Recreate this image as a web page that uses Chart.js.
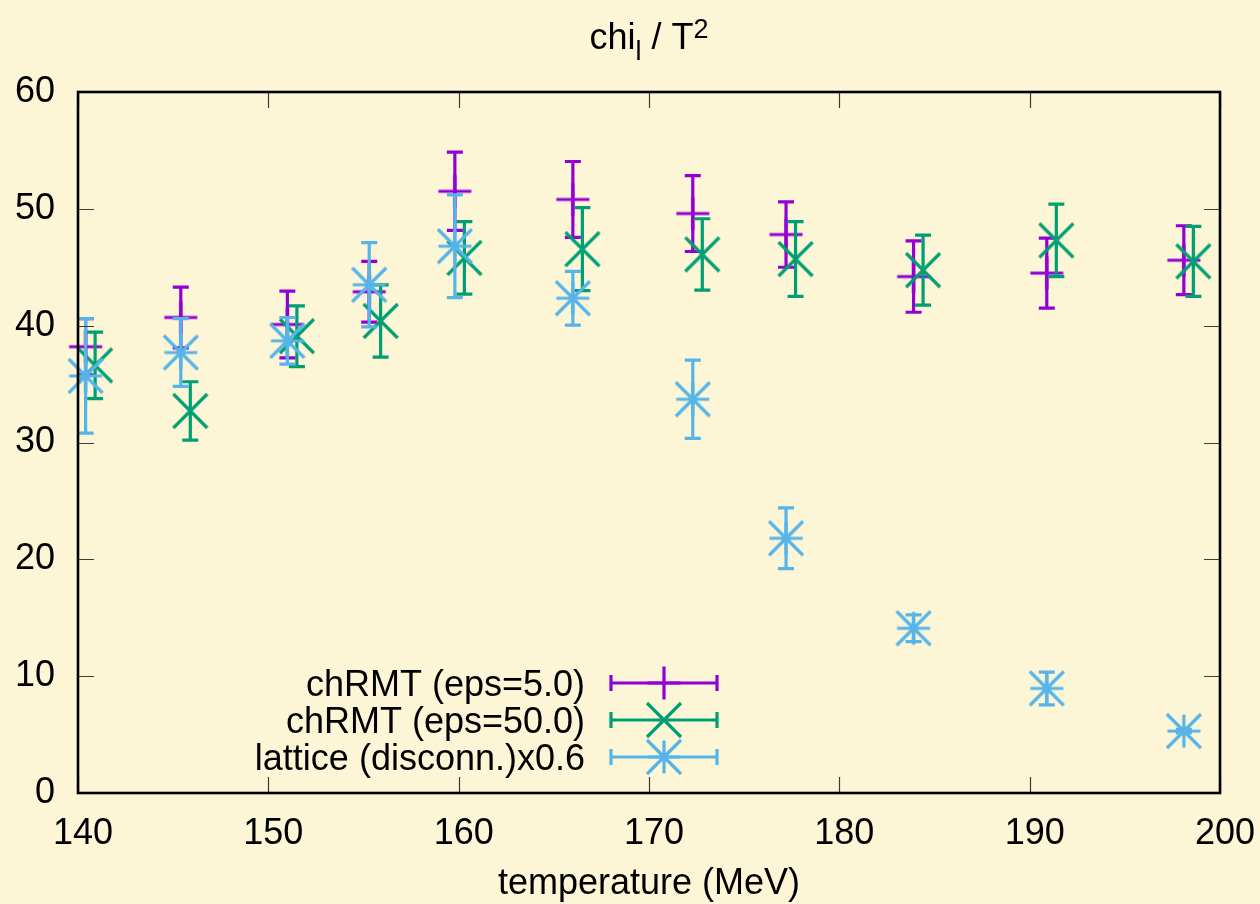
<!DOCTYPE html>
<html><head><meta charset="utf-8">
<script src="https://cdn.jsdelivr.net/npm/chart.js@4.4.1/dist/chart.umd.min.js"></script>
<style>html,body{margin:0;padding:0;background:#fdf6d6;}</style>
</head><body>
<canvas id="c" width="1260" height="904" style="display:block;width:1260px;height:904px"></canvas>
<script>
// ---- data ----
const seriesLabels = ['chRMT (eps=5.0)', 'chRMT (eps=50.0)', 'lattice (disconn.)x0.6'];
const temperatures = [140.4, 145.4, 151.0, 155.3, 159.8, 166.0, 172.3, 177.2, 183.9, 190.9, 198.1];
const temperaturesEps50 = [140.9, 145.9, 151.5, 155.9, 160.3, 166.5, 172.8, 177.7, 184.4, 191.4, 198.6];
const eps5Values = [38.2, 40.7, 40.1, 42.9, 51.5, 50.8, 49.6, 47.8, 44.2, 44.5, 45.6];
const eps5Errors = [2.4, 2.6, 2.85, 2.6, 3.35, 3.25, 3.25, 2.8, 3.05, 3.0, 2.95];
const eps50Values = [36.6, 32.7, 39.1, 40.4, 45.8, 46.55, 46.1, 45.7, 44.75, 47.3, 45.5];
const eps50Errors = [2.85, 2.5, 2.6, 3.1, 3.1, 3.55, 3.05, 3.2, 3.0, 3.1, 3.0];
const latticeValues = [35.7, 37.7, 38.7, 43.5, 46.8, 42.35, 33.7, 21.8, 14.1, 8.95, 5.3];
const latticeErrors = [4.9, 2.9, 2.0, 3.6, 4.4, 2.3, 3.35, 2.6, 1.15, 1.4, 0.15];
const xTicks = [140, 150, 160, 170, 180, 190, 200];
const yTicks = [0, 10, 20, 30, 40, 50, 60];

// ---- styling ----
const BG = '#fdf6d6';
const FONT = '"Liberation Sans", Arial, sans-serif';
const FS = 36;
const COLORS = ['#9400d3', '#009e73', '#56b4e9'];
Chart.defaults.font.family = FONT;
Chart.defaults.font.size = FS;
Chart.defaults.color = '#000';

function makeMarker(type, color) {
  const size = 42, c = size / 2, s = 17, p = 16.5;
  const cv = document.createElement('canvas');
  cv.width = size; cv.height = size;
  const g = cv.getContext('2d');
  g.strokeStyle = color; g.lineWidth = 3.2; g.lineCap = 'butt';
  g.beginPath();
  if (type === 'plus' || type === 'star') {
    g.moveTo(c - p, c); g.lineTo(c + p, c);
    g.moveTo(c, c - p); g.lineTo(c, c + p);
  }
  if (type === 'x' || type === 'star') {
    g.moveTo(c - s, c - s); g.lineTo(c + s, c + s);
    g.moveTo(c - s, c + s); g.lineTo(c + s, c - s);
  }
  g.stroke();
  return cv;
}
const markers = [makeMarker('plus', COLORS[0]), makeMarker('x', COLORS[1]), makeMarker('star', COLORS[2])];

function pts(xs, ys) { return xs.map((x, i) => ({x: x, y: ys[i]})); }
const errorSets = [eps5Errors, eps50Errors, latticeErrors];

const bgPlugin = {
  id: 'bg',
  beforeDraw(chart) {
    const ctx = chart.ctx;
    ctx.save(); ctx.fillStyle = BG; ctx.fillRect(0, 0, chart.width, chart.height); ctx.restore();
  }
};

const errorBarPlugin = {
  id: 'errbars',
  beforeDatasetDraw(chart, args) {
    const i = args.index;
    const ds = chart.data.datasets[i];
    const errs = errorSets[i];
    const xs = chart.scales.x, ys = chart.scales.y;
    const ctx = chart.ctx;
    ctx.save();
    ctx.strokeStyle = COLORS[i]; ctx.lineWidth = 3.2; ctx.lineCap = 'butt';
    ds.data.forEach((d, k) => {
      const px = xs.getPixelForValue(d.x);
      const yHi = ys.getPixelForValue(d.y + errs[k]);
      const yLo = ys.getPixelForValue(d.y - errs[k]);
      ctx.beginPath();
      ctx.moveTo(px, yHi); ctx.lineTo(px, yLo);
      ctx.moveTo(px - 8, yHi); ctx.lineTo(px + 8, yHi);
      ctx.moveTo(px - 8, yLo); ctx.lineTo(px + 8, yLo);
      ctx.stroke();
    });
    ctx.restore();
  }
};

const framePlugin = {
  id: 'frame',
  afterDatasetsDraw(chart) {
    const {ctx, chartArea: a} = chart;
    const xs = chart.scales.x, ys = chart.scales.y;
    ctx.save();
    ctx.strokeStyle = '#3a3a3a'; ctx.lineWidth = 1.2;
    ctx.beginPath();
    xTicks.forEach(t => {
      const px = Math.round(xs.getPixelForValue(t)) + 0.5;
      ctx.moveTo(px, a.bottom); ctx.lineTo(px, a.bottom - 16);
      ctx.moveTo(px, a.top); ctx.lineTo(px, a.top + 16);
    });
    yTicks.forEach(t => {
      const py = Math.round(ys.getPixelForValue(t)) + 0.5;
      ctx.moveTo(a.left, py); ctx.lineTo(a.left + 16, py);
      ctx.moveTo(a.right, py); ctx.lineTo(a.right - 16, py);
    });
    ctx.stroke();
    ctx.strokeStyle = '#000'; ctx.lineWidth = 2.6;
    ctx.strokeRect(a.left, a.top, a.right - a.left, a.bottom - a.top);
    ctx.restore();
  },
  afterDraw(chart) {
    const ctx = chart.ctx;
    ctx.save();
    // legend
    const rows = [683, 720, 757];
    ctx.font = FS + 'px ' + FONT;
    ctx.fillStyle = '#000';
    ctx.textAlign = 'right'; ctx.textBaseline = 'alphabetic';
    chart.data.datasets.forEach((ds, i) => {
      const y = rows[i];
      ctx.fillText(ds.label, 585, y + 13);
      ctx.strokeStyle = COLORS[i]; ctx.lineWidth = 3.2;
      ctx.beginPath();
      ctx.moveTo(611, y); ctx.lineTo(717, y);
      ctx.moveTo(611, y - 8); ctx.lineTo(611, y + 8);
      ctx.moveTo(717, y - 8); ctx.lineTo(717, y + 8);
      ctx.stroke();
      const m = markers[i];
      ctx.drawImage(m, 664 - m.width / 2, y - m.height / 2);
    });
    // title chi_l / T^2
    const big = FS + 'px ' + FONT, small = '27px ' + FONT;
    ctx.textAlign = 'left';
    const parts = [['chi', big, 0], ['l', small, 11], [' / T', big, 0], ['2', small, -11]];
    let total = 0;
    parts.forEach(p => { ctx.font = p[1]; total += ctx.measureText(p[0]).width; });
    let x = 649 - total / 2;
    parts.forEach(p => {
      ctx.font = p[1];
      ctx.fillText(p[0], x, 49 + p[2]);
      x += ctx.measureText(p[0]).width + (p[0] === 'T' ? 2 : 0);
    });
    ctx.restore();
  }
};

new Chart(document.getElementById('c'), {
  type: 'scatter',
  data: {
    datasets: [
      {label: seriesLabels[0], data: pts(temperatures, eps5Values), pointStyle: markers[0], pointRadius: 17, order: 3, clip: false},
      {label: seriesLabels[1], data: pts(temperaturesEps50, eps50Values), pointStyle: markers[1], pointRadius: 17, order: 2, clip: false},
      {label: seriesLabels[2], data: pts(temperatures, latticeValues), pointStyle: markers[2], pointRadius: 17, order: 1, clip: false}
    ]
  },
  options: {
    responsive: false,
    animation: false,
    events: [],
    layout: {padding: {top: 92, right: 40, left: 0, bottom: 0}},
    plugins: {legend: {display: false}, tooltip: {enabled: false}, title: {display: false}},
    scales: {
      x: {
        type: 'linear', min: 140, max: 200,
        afterBuildTicks: s => { s.ticks = xTicks.map(v => ({value: v})); },
        ticks: {padding: 19, labelOffset: 5, color: '#000', font: {size: FS}},
        grid: {display: false, drawTicks: false},
        border: {display: false},
        title: {display: true, text: 'temperature (MeV)', color: '#000', font: {size: FS, lineHeight: 1}, padding: {top: 0, bottom: 2}},
        afterFit: s => { s.height = 111; s.paddingLeft = 0; s.paddingRight = 0; }
      },
      y: {
        type: 'linear', min: 0, max: 60,
        afterBuildTicks: s => { s.ticks = yTicks.map(v => ({value: v})); },
        ticks: {padding: 23, color: '#000', font: {size: FS}},
        grid: {display: false, drawTicks: false},
        border: {display: false},
        afterFit: s => { s.width = 78; s.paddingTop = 0; s.paddingBottom = 0; }
      }
    }
  },
  plugins: [bgPlugin, errorBarPlugin, framePlugin]
});
</script>
</body></html>
